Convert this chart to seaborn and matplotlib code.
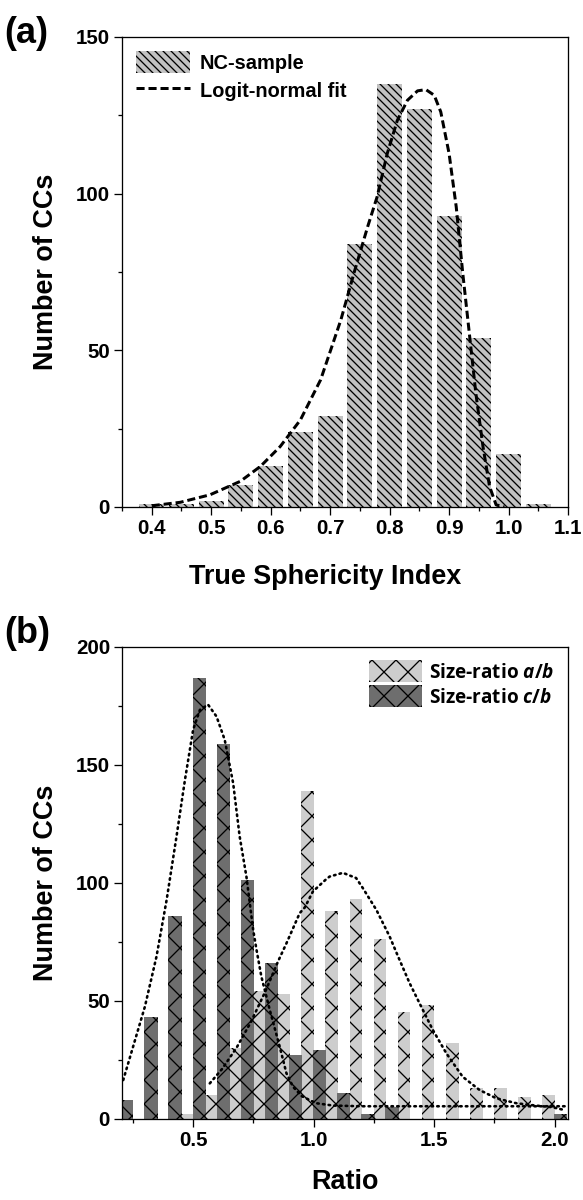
import matplotlib
matplotlib.use("Agg")
import matplotlib.pyplot as plt
from matplotlib.patches import Patch
from matplotlib.lines import Line2D
from matplotlib.ticker import MultipleLocator
import seaborn as sns
import numpy as np
import pandas as pd

# (a) true sphericity index, NC-sample
sph_bins = [0.40, 0.45, 0.50, 0.55, 0.60, 0.65, 0.70, 0.75, 0.80, 0.85, 0.90, 0.95, 1.00, 1.05]
sph_counts = [1, 1, 2, 7, 13, 24, 29, 84, 135, 127, 93, 54, 17, 1]

# logit-normal fit
sph_fit_x = [0.400, 0.448, 0.498, 0.549, 0.583, 0.616, 0.650, 0.684, 0.718, 0.740, 0.763, 0.779,
             0.796, 0.813, 0.830, 0.847, 0.861, 0.875, 0.886, 0.900, 0.912, 0.923, 0.934, 0.945,
             0.957, 0.968, 0.979, 0.993]
sph_fit_y = [0.4, 1.5, 3.9, 8.2, 13.0, 19.3, 27.8, 40.6, 59.7, 74.6, 89.4, 99.0,
             112.8, 123.4, 129.8, 132.8, 133.2, 131.4, 126.1, 112.8, 95.8, 74.6, 55.5, 36.3,
             19.3, 6.6, 0.7, 0.0]

# (b) size ratios
ab_bins = [0.475, 0.575, 0.675, 0.775, 0.875, 0.975, 1.075, 1.175, 1.275, 1.375, 1.475,
           1.575, 1.675, 1.775, 1.875, 1.975]
ab_counts = [2, 10, 30, 54, 53, 139, 88, 93, 76, 45, 48, 32, 13, 13, 9, 10]

cb_bins = [0.225, 0.325, 0.425, 0.525, 0.625, 0.725, 0.825, 0.925, 1.025, 1.125, 1.225,
           1.325, 1.425, 1.525, 1.625, 1.725, 1.825, 1.925, 2.025]
cb_counts = [8, 43, 86, 187, 159, 101, 66, 27, 29, 11, 2, 5, 0, 0, 0, 0, 0, 0, 2]

cb_fit_x = [0.21, 0.251, 0.300, 0.348, 0.390, 0.431, 0.466, 0.500, 0.528, 0.562, 0.597, 0.631,
            0.666, 0.693, 0.721, 0.749, 0.763, 0.783, 0.818, 0.859, 0.887, 0.914, 0.95, 1.01,
            1.08, 1.2, 1.5, 1.8, 2.05]
cb_fit_y = [16.3, 30.5, 47.5, 68.7, 92.7, 119.6, 143.6, 164.9, 173.3, 175.5, 170.5, 160.6,
            142.2, 119.6, 102.6, 80.0, 71.5, 60.2, 46.0, 30.5, 19.2, 13.5, 9.5, 6.5,
            5.5, 5.2, 5.2, 5.2, 5.2]

ab_fit_x = [0.569, 0.62, 0.68, 0.74, 0.80, 0.852, 0.887, 0.942, 0.963, 0.997, 1.052, 1.066,
            1.121, 1.176, 1.204, 1.260, 1.315, 1.356, 1.398, 1.439, 1.494, 1.550, 1.618,
            1.688, 1.757, 1.840, 1.92, 1.99, 2.04]
ab_fit_y = [14.9, 21.0, 30.0, 41.0, 54.0, 66.6, 74.3, 87.1, 89.5, 96.3, 101.5, 102.6,
            104.2, 102.0, 97.7, 88.5, 77.2, 67.3, 57.4, 48.9, 37.6, 27.7, 17.7,
            12.1, 8.6, 6.5, 5.5, 4.8, 3.6]

sns.set_style("ticks")
plt.rcParams["font.family"] = ["Liberation Sans", "DejaVu Sans"]
plt.rcParams["font.weight"] = "bold"
plt.rcParams["axes.labelweight"] = "bold"
plt.rcParams["text.color"] = "black"
plt.rcParams["axes.labelcolor"] = "black"
plt.rcParams["hatch.linewidth"] = 1.3
plt.rcParams["mathtext.fontset"] = "custom"
plt.rcParams["mathtext.rm"] = "Open Sans:bold"
plt.rcParams["mathtext.it"] = "Open Sans:italic:bold"

DPI = 72  # hatch spacing scales with dpi
fig = plt.figure(figsize=(583 / DPI, 1200 / DPI), dpi=DPI)
ax1 = fig.add_axes([0.2093, 0.5775, 0.765, 0.3917])
ax2 = fig.add_axes([0.2093, 0.0679, 0.765, 0.393])


def edges(centers, step):
    c = np.asarray(centers)
    return [float(v) for v in np.append(c - step / 2, c[-1] + step / 2)]


grey_a = "#c2c2c2"
hatch_a = "\\\\\\"
light_b = "#cdcdcd"
dark_b = "#6e6e6e"
dash = (0, (2.7, 1.3))
dots = (0, (0.6, 1.6))

df_a = pd.DataFrame({"x": sph_bins, "n": sph_counts})
df_ab = pd.DataFrame({"x": ab_bins, "n": ab_counts})
df_cb = pd.DataFrame({"x": cb_bins, "n": cb_counts})

# ---- (a)
sns.histplot(data=df_a, x="x", weights="n", bins=edges(sph_bins, 0.05), shrink=0.84,
             ax=ax1, facecolor=grey_a, edgecolor="black", linewidth=0, hatch=hatch_a, alpha=1)
sns.lineplot(x=sph_fit_x, y=sph_fit_y, ax=ax1, color="black", lw=3, linestyle=dash,
             estimator=None, errorbar=None, sort=False, zorder=5)
ax1.set_xlim(0.35, 1.1)
ax1.set_ylim(0, 150)
ax1.xaxis.set_major_locator(MultipleLocator(0.1))
ax1.xaxis.set_minor_locator(MultipleLocator(0.05))
ax1.yaxis.set_major_locator(MultipleLocator(50))
ax1.yaxis.set_minor_locator(MultipleLocator(25))
ax1.set_xlabel("True Sphericity Index", fontsize=27, labelpad=26)
ax1.xaxis.label.set_x(0.455)
ax1.set_ylabel("Number of CCs", fontsize=27, labelpad=17)
ax1.legend([Patch(facecolor=grey_a, edgecolor="black", hatch=hatch_a, linewidth=0),
            Line2D([], [], color="black", lw=3, linestyle=dash)],
           ["NC-sample", "Logit-normal fit"], loc="upper left", frameon=False,
           fontsize=20, handlelength=2.7, handleheight=1.35, handletextpad=0.5,
           labelspacing=0.3, borderaxespad=0.4, borderpad=0.3)

# ---- (b)
sns.histplot(data=df_ab, x="x", weights="n", bins=edges(ab_bins, 0.1), shrink=0.52,
             ax=ax2, facecolor=light_b, edgecolor="black", linewidth=0, hatch="x", alpha=1)
sns.histplot(data=df_cb, x="x", weights="n", bins=edges(cb_bins, 0.1), shrink=0.55,
             ax=ax2, facecolor=dark_b, edgecolor="black", linewidth=0, hatch="x", alpha=1)
for fx, fy in [(cb_fit_x, cb_fit_y), (ab_fit_x, ab_fit_y)]:
    sns.lineplot(x=fx, y=fy, ax=ax2, color="black", lw=2.6, linestyle=dots,
                 dash_capstyle="round", estimator=None, errorbar=None, sort=False, zorder=5)
ax2.set_xlim(0.205, 2.055)
ax2.set_ylim(0, 200)
ax2.xaxis.set_major_locator(MultipleLocator(0.5))
ax2.xaxis.set_minor_locator(MultipleLocator(0.25))
ax2.yaxis.set_major_locator(MultipleLocator(50))
ax2.yaxis.set_minor_locator(MultipleLocator(25))
ax2.set_xlabel("Ratio", fontsize=27, labelpad=19)
ax2.set_ylabel("Number of CCs", fontsize=27, labelpad=17)
ax2.legend([Patch(facecolor=light_b, edgecolor="black", hatch="x", linewidth=0),
            Patch(facecolor=dark_b, edgecolor="black", hatch="x", linewidth=0)],
           ["Size-ratio $\\it{a/b}$", "Size-ratio $\\it{c/b}$"], loc="upper right",
           frameon=False, prop={"family": "Open Sans", "weight": "bold", "size": 19},
           handlelength=2.8, handleheight=1.4, handletextpad=0.4,
           labelspacing=0.15, borderaxespad=0.4, borderpad=0.3)

for ax in (ax1, ax2):
    for s in ax.spines.values():
        s.set_linewidth(1.3)
        s.set_color("black")
    ax.tick_params(which="major", direction="out", length=8, width=1.3, pad=4,
                   labelsize=20.5, top=False, right=False, colors="black")
    ax.tick_params(which="minor", direction="out", length=4, width=1.3,
                   top=False, right=False, colors="black")

fig.text(0.008, 0.9717, "(a)", fontsize=36, fontweight="bold", va="center", ha="left")
fig.text(0.008, 0.4722, "(b)", fontsize=36, fontweight="bold", va="center", ha="left")

fig.savefig("out.png", dpi=DPI)
